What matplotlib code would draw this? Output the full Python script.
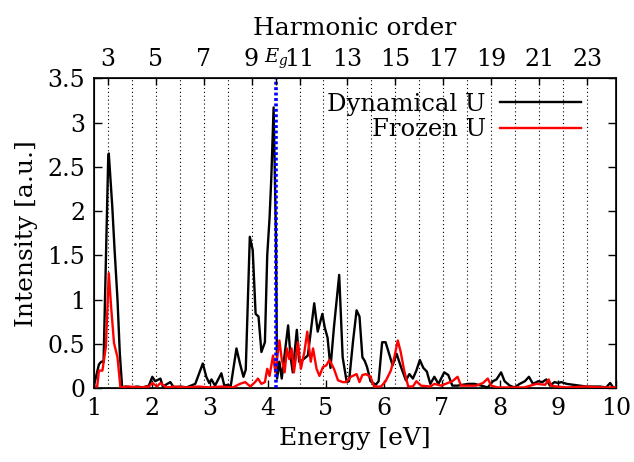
import matplotlib
matplotlib.use("Agg")
import matplotlib.pyplot as plt
import numpy as np

# photon energy of the driving field (eV) and band gap
photon_energy = 0.4133
gap_energy = 4.14
harmonics = list(range(3, 24))
top_labels = [3, 5, 7, 9, 11, 13, 15, 17, 19, 21, 23]

# Dynamical U spectrum
dyn_energy = [1.00, 1.09, 1.13, 1.17, 1.25, 1.26, 1.32, 1.36, 1.41, 1.45, 1.49,
              1.55, 1.65, 1.75, 1.85, 1.95, 2.01, 2.06, 2.15, 2.19, 2.32, 2.38,
              2.50, 2.60, 2.75, 2.88, 2.94, 2.99, 3.03, 3.09, 3.20, 3.25, 3.31,
              3.36, 3.46, 3.52, 3.58, 3.62, 3.69, 3.74, 3.79, 3.84, 3.89, 3.95,
              3.99, 4.03, 4.06, 4.10, 4.14, 4.16, 4.20, 4.24, 4.35, 4.39, 4.43,
              4.50, 4.54, 4.60, 4.69, 4.80, 4.86, 4.94, 4.98, 5.03, 5.08, 5.14,
              5.23, 5.29, 5.36, 5.40, 5.47, 5.53, 5.58, 5.63, 5.67, 5.71, 5.77,
              5.86, 5.91, 5.97, 6.03, 6.08, 6.15, 6.22, 6.29, 6.38, 6.44, 6.50,
              6.56, 6.62, 6.68, 6.74, 6.80, 6.87, 6.94, 7.04, 7.11, 7.18, 7.27,
              7.45, 7.56, 7.68, 7.79, 7.88, 7.94, 8.02, 8.08, 8.17, 8.25, 8.34,
              8.43, 8.50, 8.57, 8.66, 8.73, 8.80, 8.86, 8.94, 9.00, 9.06, 9.15,
              9.26, 9.37, 9.49, 9.72, 9.83, 9.90, 9.95, 10.00]
dyn_intensity = [0.02, 0.27, 0.30, 0.30, 2.60, 2.65, 2.05, 1.56, 1.00, 0.39, 0.01,
                 0.02, 0.01, 0.02, 0.01, 0.03, 0.13, 0.08, 0.11, 0.02, 0.07, 0.01,
                 0.02, 0.01, 0.05, 0.28, 0.13, 0.06, 0.10, 0.03, 0.17, 0.03, 0.04,
                 0.02, 0.45, 0.28, 0.13, 0.21, 1.71, 1.56, 0.84, 0.81, 0.41, 0.52,
                 1.50, 1.92, 2.37, 3.17, 1.73, 0.11, 0.30, 0.11, 0.71, 0.37, 0.18,
                 0.66, 0.30, 0.32, 0.37, 0.96, 0.64, 0.84, 0.69, 0.57, 0.23, 0.69,
                 1.28, 0.35, 0.07, 0.08, 0.54, 0.88, 0.81, 0.35, 0.31, 0.24, 0.08,
                 0.04, 0.08, 0.52, 0.52, 0.41, 0.26, 0.39, 0.25, 0.09, 0.16, 0.11,
                 0.20, 0.32, 0.23, 0.19, 0.05, 0.13, 0.05, 0.18, 0.15, 0.03, 0.03,
                 0.05, 0.05, 0.03, 0.01, 0.08, 0.10, 0.18, 0.08, 0.03, 0.01, 0.05,
                 0.08, 0.13, 0.05, 0.08, 0.07, 0.10, 0.03, 0.07, 0.06, 0.07, 0.05,
                 0.04, 0.03, 0.02, 0.02, 0.01, 0.06, 0.01, 0.01]

# Frozen U spectrum
frz_energy = [1.00, 1.06, 1.09, 1.15, 1.21, 1.26, 1.30, 1.35, 1.41, 1.46, 1.60,
              1.80, 1.95, 2.01, 2.09, 2.15, 2.25, 2.40, 2.60, 2.80, 3.00, 3.20,
              3.40, 3.52, 3.61, 3.70, 3.78, 3.83, 3.89, 3.95, 3.99, 4.03, 4.09,
              4.13, 4.20, 4.24, 4.29, 4.33, 4.37, 4.41, 4.45, 4.52, 4.57, 4.63,
              4.68, 4.74, 4.78, 4.84, 4.89, 4.95, 5.01, 5.06, 5.14, 5.21, 5.29,
              5.35, 5.43, 5.53, 5.58, 5.63, 5.69, 5.77, 5.83, 5.95, 6.03, 6.12,
              6.18, 6.24, 6.29, 6.35, 6.42, 6.50, 6.56, 6.64, 6.80, 6.87, 6.99,
              7.10, 7.18, 7.27, 7.33, 7.45, 7.59, 7.71, 7.79, 7.85, 7.96, 8.20,
              8.42, 8.63, 8.78, 8.84, 8.88, 8.97, 9.17, 9.47, 9.77, 10.00]
frz_intensity = [0.02, 0.02, 0.20, 0.20, 0.47, 1.30, 0.92, 0.51, 0.35, 0.01, 0.02,
                 0.01, 0.02, 0.06, 0.02, 0.06, 0.01, 0.02, 0.01, 0.02, 0.01, 0.02,
                 0.01, 0.05, 0.07, 0.02, 0.07, 0.11, 0.05, 0.07, 0.22, 0.14, 0.37,
                 0.18, 0.54, 0.33, 0.18, 0.45, 0.33, 0.45, 0.18, 0.52, 0.22, 0.41,
                 0.64, 0.30, 0.45, 0.22, 0.14, 0.24, 0.26, 0.32, 0.22, 0.09, 0.07,
                 0.07, 0.13, 0.16, 0.07, 0.15, 0.16, 0.13, 0.02, 0.02, 0.08, 0.20,
                 0.35, 0.54, 0.41, 0.20, 0.02, 0.02, 0.08, 0.03, 0.02, 0.05, 0.03,
                 0.06, 0.08, 0.13, 0.03, 0.03, 0.03, 0.06, 0.11, 0.03, 0.01, 0.01,
                 0.01, 0.05, 0.04, 0.10, 0.03, 0.02, 0.01, 0.02, 0.01, 0.01]

plt.rcParams["font.family"] = ["DejaVu Serif"]
plt.rcParams["mathtext.fontset"] = "dejavuserif"

fig = plt.figure(figsize=(6.34, 4.62), dpi=100)
ax = fig.add_axes([0.1478, 0.1595, 0.8238, 0.6712])

# harmonic grid lines
for n in harmonics:
    if n == 10:
        continue
    ax.axvline(n * photon_energy, color="black", linestyle=(0, (1, 2.5)), linewidth=0.8, zorder=1)

ax.plot(dyn_energy, dyn_intensity, color="black", linewidth=1.7, label="Dynamical U", zorder=3)
ax.plot(frz_energy, frz_intensity, color="red", linewidth=1.7, label="Frozen U", zorder=4)
ax.axvline(gap_energy, color="blue", linestyle=(0, (0.8, 0.7)), linewidth=2.6, zorder=5)

ax.set_xlim(1, 10)
ax.set_ylim(0, 3.5)
ax.set_xticks(range(1, 11))
ax.set_yticks(np.arange(0, 3.51, 0.5))
ax.set_yticklabels(["0", "0.5", "1", "1.5", "2", "2.5", "3", "3.5"])
ax.tick_params(axis="both", direction="in", labelsize=17, length=6, width=1,
               right=True, top=False, pad=6)
ax.set_xlabel("Energy [eV]", fontsize=18, labelpad=5)
ax.set_ylabel("Intensity [a.u.]", fontsize=18, labelpad=7)
for s in ax.spines.values():
    s.set_linewidth(1.2)

leg = ax.legend(loc="upper right", frameon=False, markerfirst=False, fontsize=17.5,
                handlelength=3.3, handletextpad=0.6, labelspacing=0.1,
                borderaxespad=0.2, bbox_to_anchor=(0.96, 1.0))

# top axis with harmonic orders
ax2 = ax.twiny()
ax2.set_xlim(ax.get_xlim())
top_pos = [n * photon_energy for n in top_labels] + [gap_energy]
top_txt = [str(n) for n in top_labels] + [r"$E_g$"]
ax2.set_xticks(top_pos)
ax2.set_xticklabels(top_txt)
ax2.tick_params(axis="x", direction="in", labelsize=17, length=5, width=1, pad=5)
# the gap label sits between 9 and 11, keep it a touch smaller
ax2.get_xticklabels()[-1].set_fontsize(14)
ax2.set_xlabel("Harmonic order", fontsize=18, labelpad=9)

fig.savefig("out.png", dpi=100)
